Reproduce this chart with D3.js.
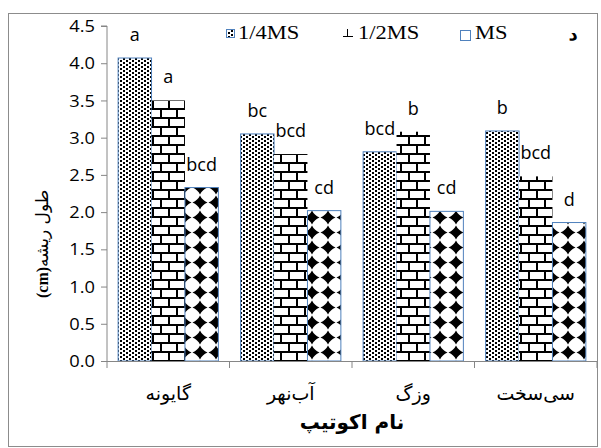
<!DOCTYPE html>
<html><head><meta charset="utf-8">
<script src="https://cdn.jsdelivr.net/npm/d3@7"></script>
<style>body{margin:0;background:#fff}</style>
</head><body>
<svg id="c" width="601" height="448"></svg>
<script>
const categories = ["گایونه", "آب‌نهر", "وزگ", "سی‌سخت"];
const seriesNames = ["1/4MS", "1/2MS", "MS"];
const quarterMS = [4.07, 3.05, 2.81, 3.09];
const halfMS = [3.50, 2.78, 3.08, 2.48];
const fullMS = [2.33, 2.02, 2.01, 1.86];
const quarterLetters = ["a", "bc", "bcd", "b"];
const halfLetters = ["a", "bcd", "b", "bcd"];
const fullLetters = ["bcd", "cd", "cd", "d"];
const yTickValues = [0, 0.5, 1.0, 1.5, 2.0, 2.5, 3.0, 3.5, 4.0, 4.5];
const yTitleText = "طول ریشه";
const yUnitText = "(cm)";
const xTitleText = "نام اکوتیپ";
const panelText = "د";

const seriesValues = [quarterMS, halfMS, fullMS];
const seriesLetters = [quarterLetters, halfLetters, fullLetters];
const fills = ["url(#dots)", "url(#brick)", "url(#diam)"];
const strokes = ["#4f81bd", "none", "#4f81bd"];

const svg = d3.select("#c");
const L = 107, R = 597, T = 26, B = 361;
const blue = "#4f81bd", axisGray = "#868686";

// patterns
const defs = svg.append("defs");
const pd = defs.append("pattern").attr("id", "dots").attr("patternUnits", "userSpaceOnUse")
  .attr("width", 6).attr("height", 4);
pd.append("rect").attr("width", 6).attr("height", 4).attr("fill", "#fff");
pd.append("rect").attr("x", 0).attr("y", 0).attr("width", 2).attr("height", 2).attr("fill", "#000");
pd.append("rect").attr("x", 3).attr("y", 2).attr("width", 2).attr("height", 2).attr("fill", "#000");

function brick(id, x, y, th) {
  const p = defs.append("pattern").attr("id", id).attr("patternUnits", "userSpaceOnUse")
    .attr("x", x).attr("y", y).attr("width", 16).attr("height", 18);
  p.append("rect").attr("width", 16).attr("height", 18).attr("fill", "#fff");
  p.append("rect").attr("x", 0).attr("y", 0).attr("width", 16).attr("height", th).attr("fill", "#000");
  p.append("rect").attr("x", 0).attr("y", 9).attr("width", 16).attr("height", th).attr("fill", "#000");
  p.append("rect").attr("x", 0).attr("y", 0).attr("width", th).attr("height", 9).attr("fill", "#000");
  p.append("rect").attr("x", 8).attr("y", 9).attr("width", th).attr("height", 9).attr("fill", "#000");
}
brick("brick", 0, 0, 2);
brick("brickLeg", 347, 27, 1);

const pm = defs.append("pattern").attr("id", "diam").attr("patternUnits", "userSpaceOnUse")
  .attr("width", 16).attr("height", 15);
pm.append("rect").attr("width", 16).attr("height", 15).attr("fill", "#fff");
pm.append("path").attr("fill", "#000")
  .attr("d", "M8,0.5 Q10.2,5.2 15.5,7.5 Q10.2,9.8 8,14.5 Q5.8,9.8 0.5,7.5 Q5.8,5.2 8,0.5Z");

// outer border
svg.append("rect").attr("x", 8.5).attr("y", 13.5).attr("width", 589).attr("height", 433)
  .attr("fill", "none").attr("stroke", "#8c8c8c").attr("stroke-width", 1);

// scales
const x0 = d3.scaleBand().domain(categories).range([L, R]).paddingInner(0).paddingOuter(0);
const x1 = d3.scaleBand().domain(seriesNames).range([0, x0.bandwidth()]).paddingInner(0).paddingOuter(0.333);
const y = d3.scaleLinear().domain([0, 4.5]).range([B, T]);

// bars
const data = [];
categories.forEach((c, i) => seriesNames.forEach((s, j) => {
  data.push({c, s, j, v: seriesValues[j][i], lab: seriesLetters[j][i]});
}));
svg.append("g").selectAll("rect").data(data).join("rect")
  .attr("x", d => x0(d.c) + x1(d.s))
  .attr("y", d => y(d.v))
  .attr("width", x1.bandwidth())
  .attr("height", d => y(0) - y(d.v))
  .attr("fill", d => fills[d.j])
  .attr("stroke", d => strokes[d.j])
  .attr("stroke-width", 1);

// axes
const yAxis = d3.axisLeft(y).tickValues(yTickValues).tickFormat(d3.format(".1f")).tickSize(6).tickPadding(8);
const gy = svg.append("g").attr("transform", `translate(${L},0)`).call(yAxis);
gy.select(".domain").attr("stroke", axisGray).attr("d", `M-6,${T}H0V${B}`);
gy.selectAll(".tick line").attr("stroke", axisGray);
gy.selectAll(".tick text").attr("font-family", "Open Sans").attr("font-size", 15.5).attr("fill", "#000")
  .attr("transform", "scale(1.18,1)").attr("x", -12 / 1.18).attr("dy", "0.36em");

svg.append("line").attr("x1", L).attr("x2", R).attr("y1", B + 0.5).attr("y2", B + 0.5)
  .attr("stroke", axisGray);
const bounds = categories.map(c => x0(c)).concat([R]);
svg.append("g").selectAll("line").data(bounds).join("line")
  .attr("x1", d => d).attr("x2", d => d).attr("y1", B).attr("y2", B + 7).attr("stroke", axisGray);

// data letters
svg.append("g").selectAll("text").data(data).join("text")
  .attr("x", d => x0(d.c) + x1(d.s) + x1.bandwidth() / 2)
  .attr("y", d => y(d.v) - 17)
  .attr("text-anchor", "middle")
  .attr("font-family", "Open Sans").attr("font-size", 18).attr("fill", "#000")
  .text(d => d.lab);

// category labels
svg.append("g").selectAll("text").data(categories).join("text")
  .attr("x", d => x0(d) + x0.bandwidth() / 2).attr("y", 400)
  .attr("text-anchor", "middle").attr("font-family", "DejaVu Sans").attr("font-size", 19)
  .attr("fill", "#000").text(d => d);

// x title
svg.append("text").attr("x", (L + R) / 2).attr("y", 429).attr("text-anchor", "middle")
  .attr("font-family", "DejaVu Sans").attr("font-size", 20).attr("font-weight", "bold")
  .attr("fill", "#000").text(xTitleText);

// y title
const yt = svg.append("g").attr("transform", "translate(48,0) rotate(-90)");
yt.append("text").attr("x", -298).attr("y", 0).attr("text-anchor", "start")
  .attr("font-family", "Liberation Serif").attr("font-weight", "bold").attr("font-size", 16)
  .attr("fill", "#000").text(yUnitText);
yt.append("text").attr("x", -267).attr("y", 0).attr("text-anchor", "start")
  .attr("font-family", "DejaVu Sans").attr("font-size", 17)
  .attr("fill", "#000").text(yTitleText);

// legend
const lg = svg.append("g");
lg.append("rect").attr("x", 226.5).attr("y", 29.5).attr("width", 8).attr("height", 8)
  .attr("fill", "url(#dots)").attr("stroke", blue);
lg.append("rect").attr("x", 343).attr("y", 29).attr("width", 10).attr("height", 9)
  .attr("fill", "url(#brickLeg)");
lg.append("rect").attr("x", 460.5).attr("y", 30.5).attr("width", 10).attr("height", 10)
  .attr("fill", "#fff").attr("stroke", blue);
const legX = [238, 358, 475];
seriesNames.forEach((s, i) => {
  lg.append("text").attr("transform", `translate(${legX[i]},39) scale(1.25,1)`)
    .attr("font-family", "Liberation Serif").attr("font-size", 18).attr("fill", "#000").text(s);
});

// panel label
svg.append("text").attr("x", 573).attr("y", 40).attr("text-anchor", "middle")
  .attr("font-family", "DejaVu Sans").attr("font-weight", "bold").attr("font-size", 18)
  .attr("fill", "#000").text(panelText);
</script>
</body></html>
